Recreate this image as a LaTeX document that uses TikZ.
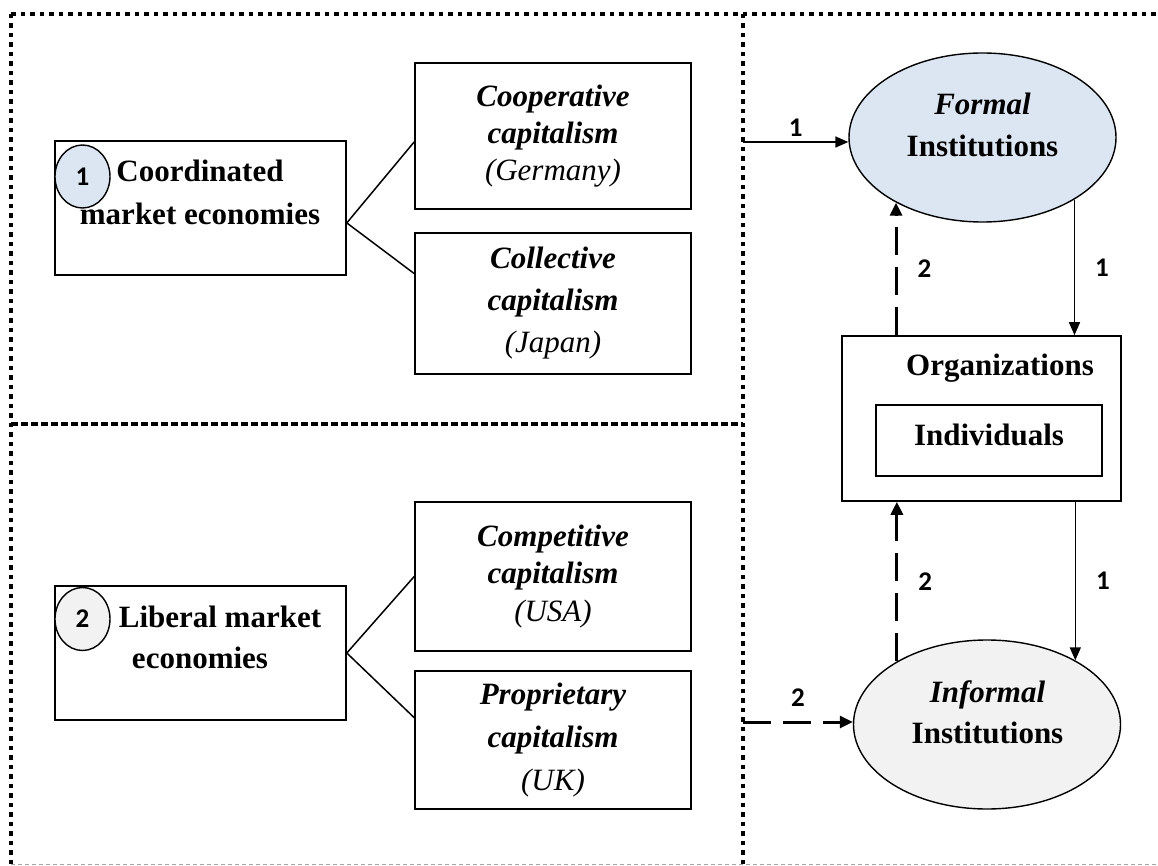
\documentclass[tikz,border=0pt]{standalone}
\usepackage{fontspec}
\setmainfont{Liberation Serif}
\newfontfamily\numfont{Carlito}
\usetikzlibrary{shapes.geometric,arrows.meta,calc}

\definecolor{formalblue}{HTML}{DCE6F2}
\definecolor{informalgray}{HTML}{F2F2F2}

\tikzset{
  txt/.style={font=\bfseries\fontsize{31}{40}\selectfont, align=center, inner sep=0pt},
  box/.style={draw, line width=1.6pt, inner sep=0pt, txt},
  inst/.style={ellipse, draw, line width=1.4pt, minimum width=267pt, minimum height=169pt, inner sep=0pt},
  badge/.style={ellipse, draw, line width=1.4pt, minimum width=55pt, minimum height=63pt, inner sep=0pt, font=\numfont\bfseries\fontsize{27}{27}\selectfont},
  lbl/.style={font=\numfont\bfseries\fontsize{27}{27}\selectfont, inner sep=2pt},
  frame/.style={line width=4.5pt, dash pattern=on 4.5pt off 5pt},
  link/.style={line width=1.5pt},
  solidarrow/.style={line width=1.5pt, -{Triangle[length=13pt,width=11pt]}},
  dasharrow/.style={line width=3pt, dash pattern=on 28pt off 12pt, -{Triangle[length=13pt,width=12pt]}}
}

\begin{document}
\begin{tikzpicture}[x=1pt, y=-1pt]
  \useasboundingbox (0,0) rectangle (1158,866);

  % --- frame ---
  \draw[frame] (11,14) -- (1158,14);
  \draw[frame] (11,14) -- (11,864);
  \draw[frame] (743,14) -- (743,864);
  \draw[line width=3.5pt, dash pattern=on 7pt off 3pt] (11,424) -- (743,424);
  \draw[gray!70, line width=1pt, dash pattern=on 4pt off 3pt] (11,864) -- (1158,864);

  % --- coordinated market economies ---
  \node[box, minimum width=291pt, minimum height=134pt] (cme) at (200.5,208) {};
  \node[txt, anchor=base, font=\bfseries\fontsize{31}{43}\selectfont] (cmetxt) at (200,225) {Coordinated\\market economies};
  \node[badge, fill=formalblue] (badge1) at (82.5,176.5) {1};

  \node[box, minimum width=276pt, minimum height=146pt, font=\bfseries\fontsize{31}{37}\selectfont] (coop) at (553,136)
    {\textit{Cooperative}\\\textit{capitalism}\\\textmd{\textit{(Germany)}}};
  \node[box, minimum width=276pt, minimum height=141pt, font=\bfseries\fontsize{31}{42}\selectfont] (coll) at (553,303.5)
    {\textit{Collective}\\\textit{capitalism}\\\textmd{\textit{(Japan)}}};

  \draw[link] ($(cme.north east)!0.61!(cme.south east)$) -- ($(coop.north west)!0.54!(coop.south west)$);
  \draw[link] ($(cme.north east)!0.61!(cme.south east)$) -- ($(coll.north west)!0.29!(coll.south west)$);

  % --- liberal market economies ---
  \node[box, minimum width=291pt, minimum height=134pt] (lme) at (200.5,653) {};
  \node[txt, anchor=base, font=\bfseries\fontsize{31}{41}\selectfont] (lmetxt) at (200,668) {\hspace*{40pt}Liberal market\\economies};
  \node[badge, fill=informalgray] (badge2) at (82.5,619) {2};

  \node[box, minimum width=276pt, minimum height=149pt, font=\bfseries\fontsize{31}{37.5}\selectfont] (comp) at (553,576.5)
    {\textit{Competitive}\\\textit{capitalism}\\\textmd{\textit{(USA)}}};
  \node[box, minimum width=276pt, minimum height=138pt, font=\bfseries\fontsize{31}{43}\selectfont] (prop) at (553,740)
    {\textit{Proprietary}\\\textit{capitalism}\\\textmd{\textit{(UK)}}};

  \draw[link] (lme.east) -- (comp.west);
  \draw[link] (lme.east) -- ($(prop.north west)!0.34!(prop.south west)$);

  % --- institutions and organizations ---
  \node[inst, fill=formalblue] (formal) at (982.5,137.5) {};
  \node[txt, anchor=base, font=\bfseries\fontsize{31}{42}\selectfont] (formaltxt) at (982.5,157) {\textit{Formal}\\Institutions};

  \node[inst, fill=informalgray] (informal) at (987,724.5) {};
  \node[txt, anchor=base, font=\bfseries\fontsize{31}{41}\selectfont] (informaltxt) at (987.5,743) {\textit{Informal}\\Institutions};

  \node[box, minimum width=279pt, minimum height=165pt] (org) at (981.5,418.5) {};
  \node[txt, anchor=base] (orgtxt) at (1000,375) {Organizations};
  \node[box, minimum width=226pt, minimum height=71pt, text depth=12pt] (indiv) at (989,440.5) {Individuals};

  % --- arrows ---
  \coordinate (div1) at (743,142);
  \coordinate (div2) at (743,722);

  \draw[solidarrow] (div1) -- (div1 -| formal.west) node[lbl, midway, above=3pt] (l1a) {1};
  \draw[solidarrow] (formal.-34) -- (formal.-34 |- org.north) node[lbl, midway, right=18pt] (l1b) {1};
  \draw[dasharrow] (formal.217 |- org.north) -- (formal.217) node[lbl, midway, right=18pt] (l2a) {2};

  \draw[solidarrow] (informal.36 |- org.south) -- (informal.36) node[lbl, midway, right=18pt] (l1c) {1};
  \draw[dasharrow] (informal.145) -- (informal.145 |- org.south) node[lbl, midway, right=18pt] (l2b) {2};
  \draw[dasharrow] (div2) -- (div2 -| informal.west) node[lbl, midway, above=12pt] (l2c) {2};
\end{tikzpicture}
\end{document}
